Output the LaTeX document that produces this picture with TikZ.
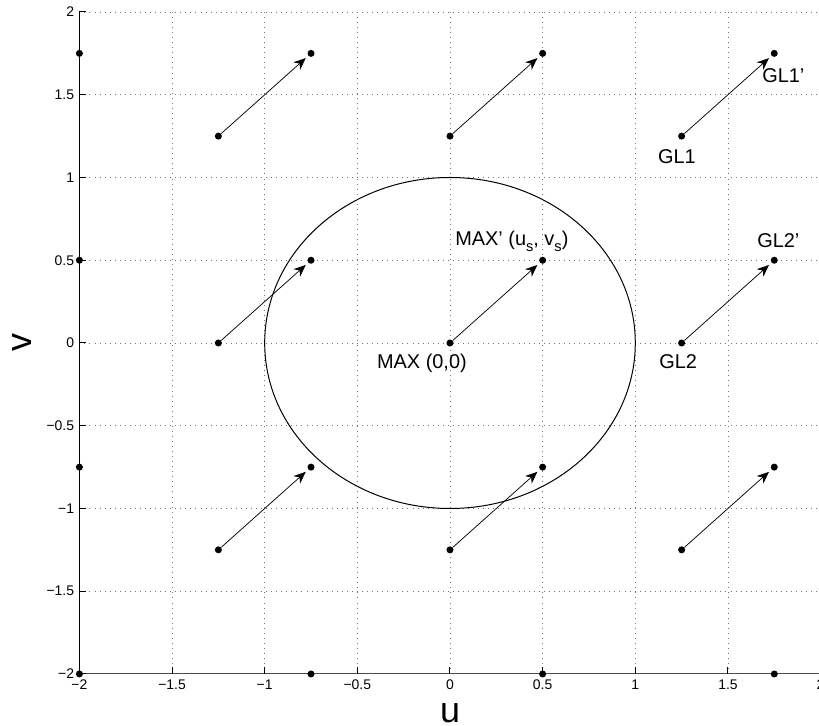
\documentclass[tikz,border=0pt]{standalone}
\usepackage{fontspec}
\setmainfont{Liberation Sans}
\usetikzlibrary{arrows.meta}
\newcommand{\lowsub}[1]{\raisebox{-5pt}{\fontsize{11}{12}\selectfont #1}}
\tikzset{
  dot/.style={
    inner sep = 0pt,
    shape = circle,
    minimum size = 5.3pt,
    fill
  },
  shiftarrow/.style={
    -{Stealth[length=9pt,width=7.5pt,inset=2.8pt]},
    shorten >= 2.5pt,
    line width = 0.55pt
  },
  gridline/.style={
    black!55,
    line width = 0.6pt,
    dash pattern = on 0.6pt off 3.2pt
  },
  axisline/.style={
    line width = 0.75pt
  },
  ticklabel/.style={
    inner sep = 0pt,
    font = \fontsize{10.5}{12}\selectfont
  },
  pointlabel/.style={
    inner sep = 0pt,
    anchor = base west,
    font = \fontsize{15}{18}\selectfont
  },
  axislabel/.style={
    inner sep = 0pt,
    font = \fontsize{27}{30}\selectfont
  }
}
\begin{document}
\begin{tikzpicture}[x=4.903cm,y=4.379cm]
            \useasboundingbox (-2.4285,-2.314) rectangle (1.9914,2.0725);
            % grid
            \foreach \g in {-1.5,-1,-0.5,0,0.5,1,1.5,2}{
                    \draw[gridline] (\g,-2) -- (\g,2);
                    \draw[gridline] (-2,\g) -- (2,\g);
                }
            % axes, ticks and tick labels
            \draw[axisline] (-2,2) -- (-2,-2);
            \draw[axisline,black!70] (-2,-2) -- (2,-2);
            \foreach \g/\t [count=\k] in {-2/−2,-1.5/−1.5,-1/−1,-0.5/−0.5,0/0,0.5/0.5,1/1,1.5/1.5,2/2}{
                    \draw[axisline] (-2,\g) -- ++(5pt,0);
                    \draw[axisline] (\g,-2) -- ++(0,5pt);
                    \node[ticklabel,anchor=east,xshift=-3.8pt] (ty\k) at (-2,\g) {\t};
                    \node[ticklabel,anchor=north,yshift=-4.5pt] (tx\k) at (\g,-2) {\t};
                }
            \node[axislabel,anchor=base] (ulabel) at (0,-2.292) {u};
            \node[axislabel,rotate=90] (vlabel) at (-2.31,0) {v};
            % unit circle
            \draw[line width=0.75pt] (0,0) ellipse [x radius=1, y radius=1];
            % shifted points
            \foreach \a/\b [count=\i] in {-1.25/1.25,0/1.25,1.25/1.25,-1.25/0,0/0,1.25/0,-1.25/-1.25,0/-1.25,1.25/-1.25}{
                    \node[dot] (p\i) at (\a,\b) {};
                    \node[dot] (q\i) at (\a+0.5,\b+0.5) {};
                    \draw[shiftarrow] (p\i) -- (q\i);
                }
            % points on the axes
            \foreach \b [count=\i] in {1.75,0.5,-0.75,-2}{
                    \node[dot] (l\i) at (-2,\b) {};
                }
            \foreach \a [count=\i] in {-0.75,0.5,1.75}{
                    \node[dot] (m\i) at (\a,-2) {};
                }
            \node[pointlabel] (maxlabel) at (-0.395,-0.157) {MAX (0,0)};
            \node[pointlabel] (maxslabel) at (0.027,0.592) {MAX' (u\lowsub{s}, v\lowsub{s})};
            \node[pointlabel] (glonelabel) at (1.122,1.082) {GL1};
            \node[pointlabel] (glonearrlabel) at (1.684,1.571) {GL1'};
            \node[pointlabel] (gltwolabel) at (1.128,-0.157) {GL2};
            \node[pointlabel] (gltwoarrlabel) at (1.657,0.574) {GL2'};
        \end{tikzpicture}
\end{document}
